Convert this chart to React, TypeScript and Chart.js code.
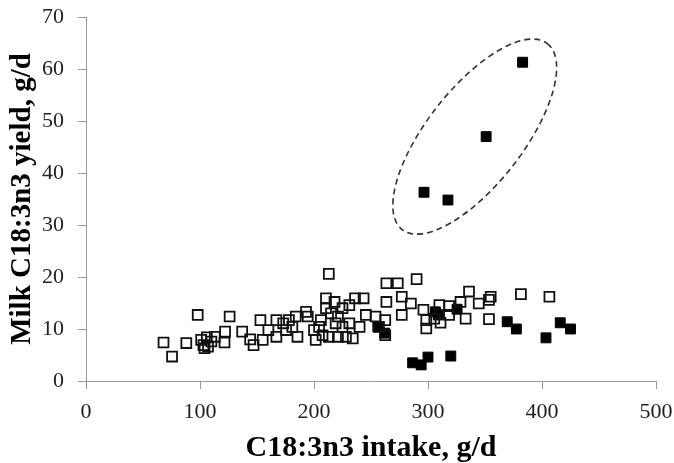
import React, { useEffect, useRef } from "react";
import { Chart, registerables } from "chart.js";

Chart.register(...registerables);

// Open squares (x = C18:3n3 intake g/d, y = milk C18:3n3 yield g/d)
const openX = [68, 75.5, 88, 98, 101, 103, 106, 107, 110, 113, 104, 121.5, 122, 126, 137, 144, 147, 153, 155, 160, 167, 167, 173, 175.5, 178, 181, 184, 185.5, 193, 194.5, 200, 201.5, 204.5, 206, 213, 210.5, 218, 210.5, 215, 221, 225, 231, 236, 243.5, 207.5, 213, 221, 228, 234, 219, 225, 231, 240, 245.5, 254, 257, 262.5, 262.5, 263.5, 273.5, 290, 263.5, 277, 285, 277, 296, 298.5, 298.5, 305.5, 310, 311, 318.5, 318.5, 328.5, 336, 333, 344.5, 353.5, 355, 353.5, 381.5, 406.5];
const openY = [7.4, 4.7, 7.3, 12.7, 7.9, 6.9, 8.4, 6.6, 7.6, 8.5, 6.3, 7.4, 9.5, 12.4, 9.5, 8, 6.9, 11.7, 7.9, 9.8, 11.7, 8.5, 11.1, 9.8, 11.7, 10.4, 12.4, 8.5, 13.3, 12.4, 9.8, 7.9, 10.4, 11.7, 20.6, 15.9, 15.2, 14, 13, 12.4, 14, 14.6, 15.9, 15.9, 8.8, 8.5, 8.5, 8.5, 8.2, 11.1, 10.4, 11.1, 10.4, 12.7, 12.4, 10.4, 11.7, 8.8, 18.8, 18.8, 19.6, 15.2, 16.2, 14.9, 12.7, 13.7, 11.7, 10.1, 12, 14.6, 11.2, 14.4, 12.7, 15.2, 17.2, 12, 14.9, 15.6, 16.2, 11.9, 16.7, 16.2];

// Filled squares
const filledX = [256, 262, 306.5, 309, 325.5, 286.5, 294, 300, 320, 369.5, 377.5, 403.5, 416, 425, 296.5, 317.5, 351, 383];
const filledY = [10.4, 9.2, 13.3, 12.7, 13.8, 3.5, 3.1, 4.6, 4.8, 11.4, 10, 8.3, 11.2, 10, 36.3, 34.8, 47, 61.3];

const xTicks = [0, 100, 200, 300, 400, 500];
const yTicks = [0, 10, 20, 30, 40, 50, 60, 70];

// dashed ellipse annotation: centre in data units, radii in px, rotation in degrees
const ellipseCenter = [341, 47];
const ellipseRadii = [118, 48];
const ellipseAngle = -52;

const FONT = "'Liberation Serif', 'Times New Roman', serif";

const ellipsePlugin = {
  id: "ellipse",
  afterDatasetsDraw(chart: any) {
    const { ctx, scales } = chart;
    const cx = scales.x.getPixelForValue(ellipseCenter[0]);
    const cy = scales.y.getPixelForValue(ellipseCenter[1]);
    ctx.save();
    ctx.beginPath();
    ctx.setLineDash([6, 4]);
    ctx.lineWidth = 1.6;
    ctx.strokeStyle = "#333";
    ctx.ellipse(cx, cy, ellipseRadii[0], ellipseRadii[1], (ellipseAngle * Math.PI) / 180, 0, Math.PI * 2);
    ctx.stroke();
    ctx.restore();
  },
};

export default function App() {
  const ref = useRef<HTMLCanvasElement>(null);
  useEffect(() => {
    document.body.style.margin = "0";
    const chart = new Chart(ref.current!, {
      type: "scatter",
      data: {
        datasets: [
          {
            data: openX.map((x, i) => ({ x, y: openY[i] })),
            pointStyle: "rect",
            pointRadius: 7,
            borderColor: "#111",
            backgroundColor: "rgba(0,0,0,0)",
            borderWidth: 1.8,
          },
          {
            data: filledX.map((x, i) => ({ x, y: filledY[i] })),
            pointStyle: "rect",
            pointRadius: 7,
            borderColor: "#000",
            backgroundColor: "#000",
            borderWidth: 1,
          },
        ],
      },
      options: {
        animation: false,
        responsive: false,
        layout: { padding: { top: 17, right: 18, left: 0, bottom: 0 } },
        plugins: { legend: { display: false }, tooltip: { enabled: false } },
        scales: {
          x: {
            type: "linear",
            min: 0,
            max: 500,
            afterBuildTicks: (s: any) => {
              s.ticks = xTicks.map((v) => ({ value: v }));
            },
            afterFit: (s: any) => {
              s.height = 82;
              s.paddingLeft = 0;
              s.paddingRight = 0;
            },
            ticks: { font: { family: FONT, size: 22 }, color: "#222", padding: 10, maxRotation: 0 },
            grid: { drawOnChartArea: false, drawTicks: true, tickLength: 8, color: "#999" },
            border: { color: "#999", width: 1 },
            title: {
              display: true,
              text: "C18:3n3 intake, g/d",
              font: { family: FONT, size: 30, weight: "bold" },
              color: "#000",
              padding: { top: 0, bottom: -3 },
            },
          },
          y: {
            type: "linear",
            min: 0,
            max: 70,
            afterBuildTicks: (s: any) => {
              s.ticks = yTicks.map((v) => ({ value: v }));
            },
            afterFit: (s: any) => {
              s.width = 86;
              s.paddingTop = 0;
              s.paddingBottom = 0;
            },
            ticks: { font: { family: FONT, size: 22 }, color: "#222", padding: 14 },
            grid: { drawOnChartArea: false, drawTicks: true, tickLength: 8, color: "#999" },
            border: { color: "#999", width: 1 },
            title: {
              display: true,
              text: "Milk C18:3n3 yield, g/d",
              font: { family: FONT, size: 29, weight: "bold" },
              color: "#000",
              padding: { top: 5, bottom: 0 },
            },
          },
        },
      },
      plugins: [ellipsePlugin],
    });
    return () => chart.destroy();
  }, []);
  return (
    <div style={{ position: "fixed", left: 0, top: 0, width: 674, height: 463, background: "#fff" }}>
      <canvas ref={ref} width={674} height={463} style={{ display: "block" }} />
    </div>
  );
}
